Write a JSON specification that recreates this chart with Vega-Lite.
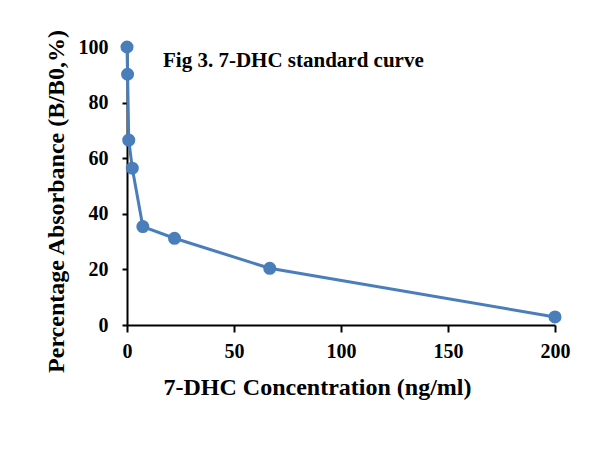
{
  "$schema": "https://vega.github.io/schema/vega-lite/v6.json",
  "width": 428,
  "height": 278,
  "autosize": {"type": "none"},
  "padding": {"left": 127, "top": 47, "right": 40, "bottom": 141},
  "background": "white",
  "config": {
    "view": {"stroke": null},
    "font": "Liberation Serif"
  },
  "title": {
    "text": "Fig 3. 7-DHC standard curve",
    "anchor": "start",
    "frame": "group",
    "orient": "top",
    "dx": 36,
    "dy": 63,
    "font": "Liberation Serif",
    "fontSize": 21,
    "fontWeight": "bold",
    "color": "black",
    "baseline": "alphabetic"
  },
  "data": {
    "values": [
      {"conc": 0, "pct": 100},
      {"conc": 0.27, "pct": 90.2},
      {"conc": 0.82, "pct": 66.5},
      {"conc": 2.47, "pct": 56.4},
      {"conc": 7.4, "pct": 35.4},
      {"conc": 22.2, "pct": 31.2},
      {"conc": 66.7, "pct": 20.4},
      {"conc": 200, "pct": 2.9}
    ]
  },
  "mark": {"type": "line", "color": "#4A7EBB", "strokeWidth": 3, "point": {"filled": true, "size": 170, "color": "#4A7EBB", "opacity": 1}},
  "encoding": {
    "x": {
      "field": "conc", "type": "quantitative",
      "scale": {"domain": [0, 200], "nice": false, "zero": true},
      "axis": {
        "title": "7-DHC Concentration (ng/ml)",
        "values": [0, 50, 100, 150, 200],
        "grid": false,
        "domainColor": "black", "domainWidth": 2,
        "tickColor": "black", "tickWidth": 2, "tickSize": 7,
        "labelFont": "Liberation Serif", "labelFontSize": 20, "labelFontWeight": "bold", "labelColor": "black",
        "labelPadding": 9, "labelFlush": false,
        "titleFont": "Liberation Serif", "titleFontSize": 24, "titleFontWeight": "bold", "titleColor": "black",
        "titleX": 190, "titleY": 69, "titleBaseline": "alphabetic", "titleAlign": "center"
      }
    },
    "y": {
      "field": "pct", "type": "quantitative",
      "scale": {"domain": [0, 100], "nice": false},
      "axis": {
        "title": "Percentage Absorbance (B/B0,%)",
        "values": [0, 20, 40, 60, 80, 100],
        "grid": false,
        "domainColor": "black", "domainWidth": 2,
        "tickColor": "black", "tickWidth": 2, "tickSize": 5,
        "labelFont": "Liberation Serif", "labelFontSize": 20, "labelFontWeight": "bold", "labelColor": "black",
        "labelPadding": 14, "labelFlush": false,
        "titleFont": "Liberation Serif", "titleFontSize": 24, "titleFontWeight": "bold", "titleColor": "black",
        "titleX": -64, "titleY": 154, "titleBaseline": "alphabetic", "titleAlign": "center", "titleAngle": 270
      }
    }
  }
}
